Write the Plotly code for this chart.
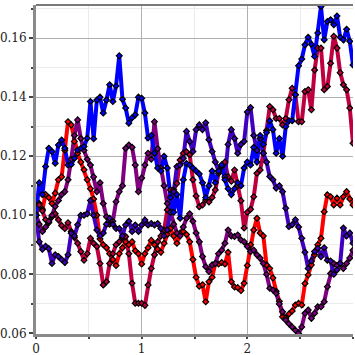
import numpy as np
import plotly.graph_objects as go

x = np.linspace(0, 3, 100)

red = [0.100,0.104,0.102,0.107,0.106,0.104,0.1075,0.112,0.113,0.122,
       0.1317,0.1306,0.125,0.121,0.118,0.1154,0.112,0.109,0.1055,0.100,
       0.092,0.090,0.089,0.087,0.085,0.083,0.087,0.089,0.091,0.090,
       0.091,0.088,0.087,0.0835,0.087,0.089,0.0915,0.090,0.0885,0.0875,
       0.0905,0.0935,0.0955,0.093,0.0905,0.094,0.0945,0.0935,0.091,0.085,
       0.079,0.076,0.0765,0.0707,0.0775,0.079,0.0837,0.0835,0.084,0.0835,
       0.0875,0.0775,0.0757,0.0755,0.0745,0.077,0.083,0.090,0.095,0.099,
       0.094,0.093,0.0832,0.082,0.0788,0.0743,0.0709,0.0656,0.0652,0.0666,
       0.0676,0.0696,0.0702,0.0696,0.0769,0.0798,0.0832,0.0866,0.090,0.0922,
       0.1012,0.1069,0.1063,0.1035,0.1058,0.1035,0.1063,0.108,0.1055,0.1035]

crimson = [0.100,0.1035,0.1015,0.0985,0.0975,0.0995,0.1005,0.0985,0.0965,0.0955,
           0.0975,0.0945,0.0925,0.0905,0.0877,0.0848,0.087,0.0922,0.0905,0.0894,
           0.0837,0.0764,0.0775,0.0837,0.087,0.090,0.091,0.0925,0.0928,0.087,
           0.0770,0.0702,0.0702,0.0702,0.0695,0.0764,0.082,0.0866,0.091,0.093,
           0.095,0.1018,0.1086,0.1086,0.1108,0.1187,0.121,0.1215,0.1205,0.1120,
           0.1065,0.1029,0.1035,0.1052,0.1045,0.1060,0.1086,0.1142,0.1165,0.118,
           0.1130,0.1115,0.1153,0.110,0.1049,0.0957,0.101,0.102,0.1063,0.1142,
           0.1153,0.121,0.1287,0.1368,0.1357,0.1328,0.1328,0.1306,0.1328,0.1391,
           0.1430,0.1408,0.1317,0.1317,0.1419,0.1425,0.1357,0.1492,0.1566,0.1566,
           0.1425,0.1436,0.1515,0.1606,0.1566,0.1483,0.1442,0.1425,0.1363,0.1244]

purple = [0.100,0.097,0.0945,0.096,0.098,0.100,0.103,0.105,0.107,0.108,
          0.112,0.119,0.127,0.1323,0.126,0.122,0.119,0.117,0.113,0.108,
          0.111,0.104,0.0995,0.097,0.098,0.1046,0.108,0.110,0.1227,0.1238,
          0.1230,0.117,0.108,0.1126,0.117,0.121,0.119,0.1317,0.1225,0.116,
          0.110,0.104,0.101,0.097,0.094,0.093,0.096,0.099,0.1005,0.098,
          0.094,0.091,0.086,0.0826,0.081,0.0832,0.0837,0.087,0.0882,0.0905,
          0.095,0.093,0.0928,0.0933,0.0916,0.091,0.0894,0.0877,0.0882,0.0866,
          0.0855,0.0837,0.080,0.0753,0.0747,0.0736,0.070,0.0673,0.0645,0.0633,
          0.0622,0.0611,0.0600,0.0622,0.0668,0.0679,0.0651,0.0668,0.069,0.069,
          0.0707,0.0758,0.0803,0.0837,0.0831,0.0837,0.082,0.0837,0.0855,0.0882]

indigo = [0.100,0.091,0.0885,0.0895,0.0887,0.0837,0.0866,0.0860,0.0850,0.0840,
          0.0866,0.0939,0.093,0.0968,0.100,0.100,0.1005,0.105,0.100,0.095,
          0.093,0.094,0.097,0.099,0.097,0.0955,0.0955,0.093,0.0967,0.098,
          0.0945,0.0967,0.0945,0.0967,0.0984,0.0967,0.0972,0.0967,0.0972,0.0955,
          0.093,0.095,0.101,0.108,0.1165,0.117,0.1193,0.1284,0.125,0.1216,
          0.129,0.1306,0.129,0.1313,0.1256,0.1216,0.118,0.115,0.117,0.113,
          0.124,0.129,0.126,0.121,0.124,0.125,0.135,0.1365,0.127,0.122,
          0.126,0.121,0.118,0.1131,0.1120,0.1092,0.110,0.108,0.1024,0.0962,
          0.0968,0.0985,0.096,0.0922,0.0875,0.082,0.0845,0.0877,0.0888,0.086,
          0.089,0.0848,0.0845,0.080,0.0815,0.0837,0.0957,0.093,0.094,0.0905]

blue = [0.100,0.111,0.107,0.1165,0.1227,0.1216,0.1176,0.1238,0.1255,0.1227,
        0.1170,0.1172,0.1193,0.1221,0.1227,0.1233,0.1261,0.1385,0.1259,0.1390,
        0.1400,0.1346,0.1390,0.1442,0.1385,0.1438,0.1540,0.1393,0.1363,0.1312,
        0.1330,0.1340,0.1400,0.1396,0.1346,0.1262,0.1270,0.1210,0.1160,0.1150,
        0.1200,0.1160,0.1060,0.1010,0.1070,0.0990,0.1120,0.1175,0.1170,0.1160,
        0.1150,0.1140,0.1110,0.1060,0.1100,0.1150,0.1110,0.1150,0.1170,0.1120,
        0.1090,0.1070,0.1090,0.1110,0.1100,0.1160,0.1180,0.1170,0.1230,0.1180,
        0.1270,0.1240,0.1280,0.1320,0.1290,0.1210,0.1260,0.1200,0.1300,0.1320,
        0.1320,0.1408,0.1506,0.1529,0.1577,0.1603,0.1579,0.1538,0.1617,0.1707,
        0.1594,0.1656,0.1662,0.1645,0.1675,0.1603,0.1594,0.1630,0.1589,0.1509]

series = [red, crimson, purple, indigo, blue]
colors = ["#ff0000", "#bf0040", "#800080", "#4000bf", "#0000ff"]

fig = go.Figure()
for ys, c in zip(series, colors):
    fig.add_trace(go.Scatter(x=x, y=ys, mode="lines",
                             line=dict(color=c, width=4), showlegend=False,
                             hoverinfo="skip"))
for ys, c in zip(series, colors):
    fig.add_trace(go.Scatter(x=x, y=ys, mode="markers",
                             marker=dict(symbol="diamond", size=4.5, color=c,
                                         line=dict(color="black", width=1.2)),
                             showlegend=False, hoverinfo="skip"))

font = dict(family="DejaVu Serif", size=12, color="#222222")
fig.update_layout(
    width=355, height=355,
    margin=dict(l=36, r=2, t=5, b=21),
    plot_bgcolor="white", paper_bgcolor="white",
    font=font,
    xaxis=dict(range=[0, 3], tick0=0, dtick=1, showgrid=True, automargin=False,
               gridcolor="#b0b0b0", gridwidth=1.3, zeroline=False,
               showline=True, linecolor="#8a8a8a", linewidth=3,
               ticks="outside", ticklen=2, tickwidth=1.5, tickcolor="#444",
               tickfont=font, ticklabelstandoff=0,
               minor=dict(dtick=0.5, showgrid=True, gridcolor="#ebebeb",
                          gridwidth=1, ticks="outside", ticklen=2,
                          tickcolor="#444")),
    yaxis=dict(range=[0.0598, 0.1712], tick0=0.06, dtick=0.02, automargin=False,
               tickformat=".2f", showgrid=True,
               gridcolor="#b0b0b0", gridwidth=1.3, zeroline=False,
               showline=True, linecolor="#8a8a8a", linewidth=3,
               ticks="outside", ticklen=4, tickwidth=1.5, tickcolor="#444",
               tickfont=font,
               minor=dict(dtick=0.01, showgrid=True, gridcolor="#ebebeb",
                          gridwidth=1, ticks="outside", ticklen=2,
                          tickcolor="#444")),
    shapes=[dict(type="line", xref="paper", yref="paper", x0=0, x1=1,
                 y0=1, y1=1, line=dict(color="#7a7a7a", width=2))],
)

fig.write_html("out.html", config={"displayModeBar": False},
               post_script="document.body.style.margin='0';document.body.style.overflow='hidden';")
